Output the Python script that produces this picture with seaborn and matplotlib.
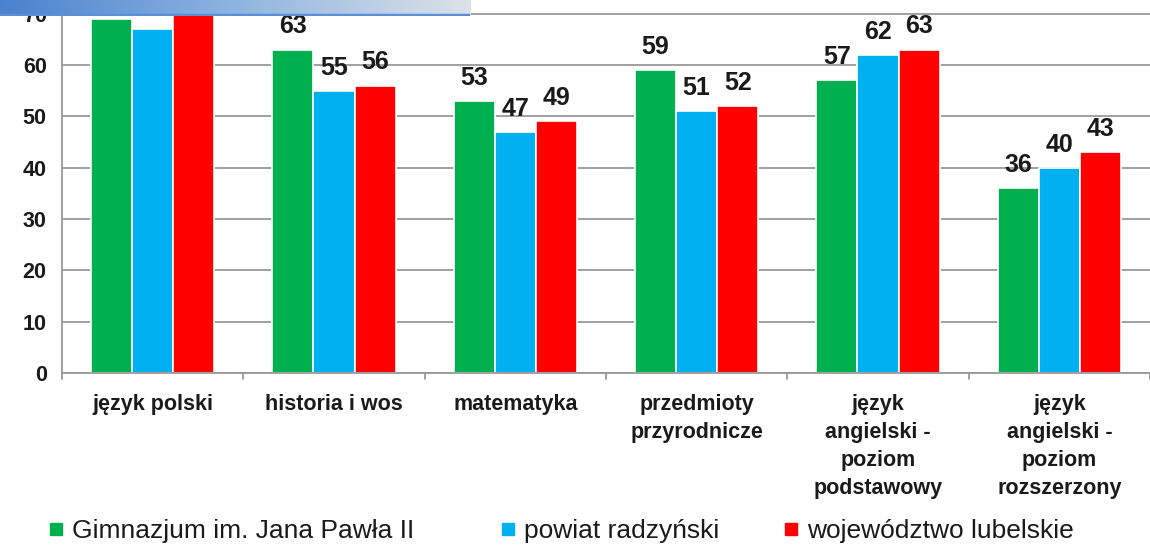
import numpy as np
import pandas as pd
import matplotlib.pyplot as plt
import seaborn as sns
from matplotlib.colors import LinearSegmentedColormap

# dane
przedmioty = ["język polski", "historia i wos", "matematyka", "przedmioty\nprzyrodnicze",
              "język\nangielski -\npoziom\npodstawowy", "język\nangielski -\npoziom\nrozszerzony"]
gimnazjum = [69, 63, 53, 59, 57, 36]
powiat = [67, 55, 47, 51, 62, 40]
wojewodztwo = [72, 56, 49, 52, 63, 43]
serie = ["Gimnazjum im. Jana Pawła II", "powiat radzyński", "województwo lubelskie"]
kolory = ["#00b050", "#00b0f0", "#ff0000"]

df = pd.DataFrame({
    "przedmiot": przedmioty * 3,
    "seria": [serie[0]] * 6 + [serie[1]] * 6 + [serie[2]] * 6,
    "wynik": gimnazjum + powiat + wojewodztwo,
})

sns.set_style("white")
plt.rcParams["font.family"] = ["Liberation Sans", "DejaVu Sans"]

fig = plt.figure(figsize=(11.5, 5.5), dpi=100)
# wykres przycięty od góry (jak w oryginale)
ax = fig.add_axes([62 / 1150, 177 / 550, 1088 / 1150, 385 / 550])

sns.barplot(data=df, x="przedmiot", y="wynik", hue="seria", palette=kolory,
            saturation=1, width=0.68, ax=ax, edgecolor="white", linewidth=1.2,
            legend=False)

ax.set_ylim(0, 75)
ax.set_xlim(-0.5, 5.5)
ax.set_yticks(range(0, 80, 10))
ax.yaxis.grid(True, color="#999999", linewidth=1.3)
ax.set_axisbelow(True)
ax.set_xlabel("")
ax.set_ylabel("")
for s in ["top", "right"]:
    ax.spines[s].set_visible(False)
for s in ["left", "bottom"]:
    ax.spines[s].set_color("#999999")
    ax.spines[s].set_linewidth(1.3)
ax.tick_params(axis="y", labelsize=15.5, length=5, color="#999999", pad=6)
ax.tick_params(axis="x", labelsize=15.5, length=0, pad=15)
for t in ax.get_yticklabels() + ax.get_xticklabels():
    t.set_fontweight("bold")
    t.set_color("#1a1a1a")
for t in ax.get_xticklabels():
    t.set_linespacing(1.45)

# znaczniki między kategoriami
for xb in np.arange(-0.5, 6, 1.0):
    ax.plot([xb, xb], [0, -1.2], color="#999999", lw=1.3, clip_on=False)

# etykiety wartości (pierwsza grupa jest ucięta w oryginale)
for cont in ax.containers:
    etyk = [""] + [f"{v:.0f}" for v in cont.datavalues[1:]]
    ax.bar_label(cont, labels=etyk, padding=8, fontsize=18, fontweight="bold",
                 color="#1a1a1a")

# legenda - trzy osobne wpisy, jak w oryginale
poz_leg = [48, 500, 783]
for nazwa, kolor, px in zip(serie, kolory, poz_leg):
    uchwyt = plt.Line2D([], [], marker="s", linestyle="", markersize=8,
                        markerfacecolor=kolor, markeredgecolor=kolor)
    leg = fig.legend([uchwyt], [nazwa], loc="center left",
                     bbox_to_anchor=(px / 1150, 0.035), frameon=False,
                     prop={"size": 19}, labelcolor="#1a1a1a", borderpad=0,
                     borderaxespad=0, handletextpad=0.3, handlelength=0.6)

# pasek z gradientem (fragment slajdu)
bax = fig.add_axes([0, 1 - 16 / 550, 470 / 1150, 16 / 550])
grad = np.linspace(0, 1, 256).reshape(1, -1)
cmap = LinearSegmentedColormap.from_list("pasek", ["#4a82cf", "#8fb4e0", "#dce2e8"])
bax.imshow(grad, aspect="auto", cmap=cmap, extent=[0, 1, 0, 1])
bax.axhline(0.08, color="#5b8fd6", lw=2.5)
bax.axis("off")

fig.savefig("out.png", dpi=100)
